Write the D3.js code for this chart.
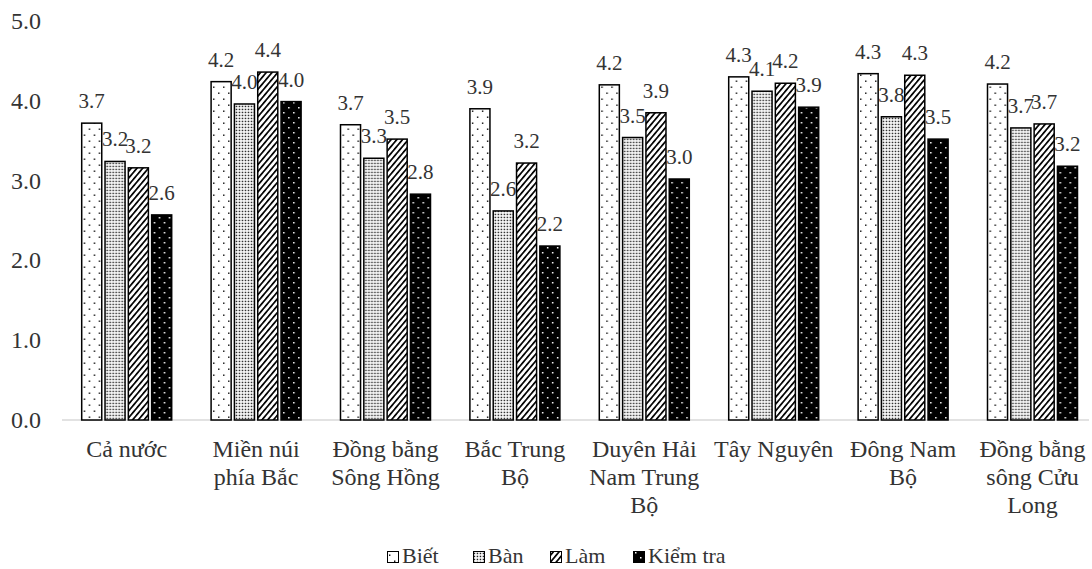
<!DOCTYPE html>
<html>
<head>
<meta charset="utf-8">
<script src="https://cdn.jsdelivr.net/npm/d3@7"></script>
<style>
  html, body { margin: 0; padding: 0; background: #fff; }
  svg { display: block; }
</style>
</head>
<body>
<svg id="chart" width="1092" height="569"></svg>
<script>
const categories = [
  ["Cả nước"],
  ["Miền núi", "phía Bắc"],
  ["Đồng bằng", "Sông Hồng"],
  ["Bắc Trung", "Bộ"],
  ["Duyên Hải", "Nam Trung", "Bộ"],
  ["Tây Nguyên"],
  ["Đông Nam", "Bộ"],
  ["Đồng bằng", "sông Cửu", "Long"]
];
const seriesNames = ["Biết", "Bàn", "Làm", "Kiểm tra"];
const bietValues   = [3.72, 4.24, 3.70, 3.90, 4.20, 4.30, 4.34, 4.21];
const banValues    = [3.24, 3.96, 3.28, 2.62, 3.54, 4.12, 3.80, 3.66];
const lamValues    = [3.16, 4.36, 3.52, 3.22, 3.85, 4.22, 4.32, 3.71];
const kiemTraValues= [2.57, 3.99, 2.83, 2.18, 3.02, 3.92, 3.52, 3.18];
const yTicks = [0, 1, 2, 3, 4, 5];

const seriesValues = [bietValues, banValues, lamValues, kiemTraValues];
const patternIds = ["pBiet", "pBan", "pLam", "pKiem"];

const FONT = "Liberation Serif";
const svg = d3.select("#chart");
const defs = svg.append("defs");

{
  const p = defs.append("pattern").attr("id", "pBiet").attr("patternUnits", "userSpaceOnUse")
    .attr("width", 10).attr("height", 12);
  p.append("rect").attr("width", 10).attr("height", 12).attr("fill", "#fff");
  p.append("rect").attr("x", 2).attr("y", 2.5).attr("width", 1.4).attr("height", 1.4).attr("fill", "#000");
  p.append("rect").attr("x", 7).attr("y", 8.5).attr("width", 1.4).attr("height", 1.4).attr("fill", "#000");
}
{
  const p = defs.append("pattern").attr("id", "pBan").attr("patternUnits", "userSpaceOnUse")
    .attr("width", 3).attr("height", 3);
  p.append("rect").attr("width", 3).attr("height", 3).attr("fill", "#fff");
  p.append("rect").attr("x", 0.7).attr("y", 0.7).attr("width", 1.5).attr("height", 1.5).attr("fill", "#222");
}
{
  const p = defs.append("pattern").attr("id", "pLam").attr("patternUnits", "userSpaceOnUse")
    .attr("width", 4.4).attr("height", 10).attr("patternTransform", "rotate(40)");
  p.append("rect").attr("width", 4.4).attr("height", 10).attr("fill", "#fff");
  p.append("rect").attr("x", 0).attr("y", 0).attr("width", 1.7).attr("height", 10).attr("fill", "#000");
}
{
  const p = defs.append("pattern").attr("id", "pKiem").attr("patternUnits", "userSpaceOnUse")
    .attr("width", 10).attr("height", 10);
  p.append("rect").attr("width", 10).attr("height", 10).attr("fill", "#000");
  p.append("rect").attr("x", 2).attr("y", 2).attr("width", 1.5).attr("height", 1.5).attr("fill", "#fff");
  p.append("rect").attr("x", 7).attr("y", 7).attr("width", 1.5).attr("height", 1.5).attr("fill", "#fff");
}

const left = 62, step = 129.4;
const x0 = d3.scaleBand().domain(d3.range(categories.length))
  .range([left, left + step * categories.length]).padding(0);
const groupW = 90;
const x1 = d3.scaleBand().domain(d3.range(seriesNames.length))
  .range([0, groupW]).paddingInner(0.14);
const y = d3.scaleLinear().domain([0, 5]).range([420, 21]);

const labelSize = 21;
const axisSize = 24;
const legendSize = 22;
const textColor = "#333";

svg.append("g").selectAll("text").data(yTicks).join("text")
  .attr("x", 41).attr("y", d => y(d) + 8)
  .attr("text-anchor", "end")
  .attr("font-size", axisSize).attr("fill", textColor)
  .style("font-family", FONT)
  .text(d => d3.format(".1f")(d));

svg.append("line").attr("x1", left).attr("x2", 1089)
  .attr("y1", y(0)).attr("y2", y(0))
  .attr("stroke", "#d9d9d9").attr("stroke-width", 1.5);

const groups = svg.append("g").selectAll("g").data(categories).join("g")
  .attr("transform", (d, i) => `translate(${x0(i) + (x0.bandwidth() - groupW) / 2},0)`);

groups.each(function(cat, ci) {
  const g = d3.select(this);
  seriesValues.forEach((vals, si) => {
    const v = vals[ci];
    g.append("rect")
      .attr("x", x1(si)).attr("width", x1.bandwidth())
      .attr("y", y(v)).attr("height", y(0) - y(v))
      .attr("fill", `url(#${patternIds[si]})`)
      .attr("stroke", "#000").attr("stroke-width", 1.5);
  });
  seriesValues.forEach((vals, si) => {
    const v = vals[ci];
    g.append("text")
      .attr("x", x1(si) + x1.bandwidth() / 2)
      .attr("y", y(v) - 15)
      .attr("text-anchor", "middle")
      .attr("font-size", labelSize).attr("fill", textColor)
      .style("font-family", FONT)
      .text(d3.format(".1f")(v));
  });
});

const catG = svg.append("g").selectAll("text").data(categories).join("text")
  .attr("text-anchor", "middle")
  .attr("font-size", axisSize).attr("fill", textColor)
  .style("font-family", FONT)
  .attr("transform", (d, i) => `translate(${x0(i) + x0.bandwidth() / 2},0)`);
catG.selectAll("tspan").data(d => d).join("tspan")
  .attr("x", 0).attr("y", (d, i) => 457 + i * 28)
  .text(d => d);

const legendX = [387, 473, 550, 633];
const leg = svg.append("g").selectAll("g").data(seriesNames).join("g")
  .attr("transform", (d, i) => `translate(${legendX[i]},0)`);
leg.append("rect").attr("x", 0.5).attr("y", 551.5).attr("width", 11).attr("height", 11)
  .attr("fill", (d, i) => `url(#${patternIds[i]})`)
  .attr("stroke", "#000").attr("stroke-width", 1);
leg.append("text").attr("x", 15).attr("y", 563)
  .attr("font-size", legendSize).attr("fill", textColor)
  .style("font-family", FONT)
  .text(d => d);
</script>
</body>
</html>
